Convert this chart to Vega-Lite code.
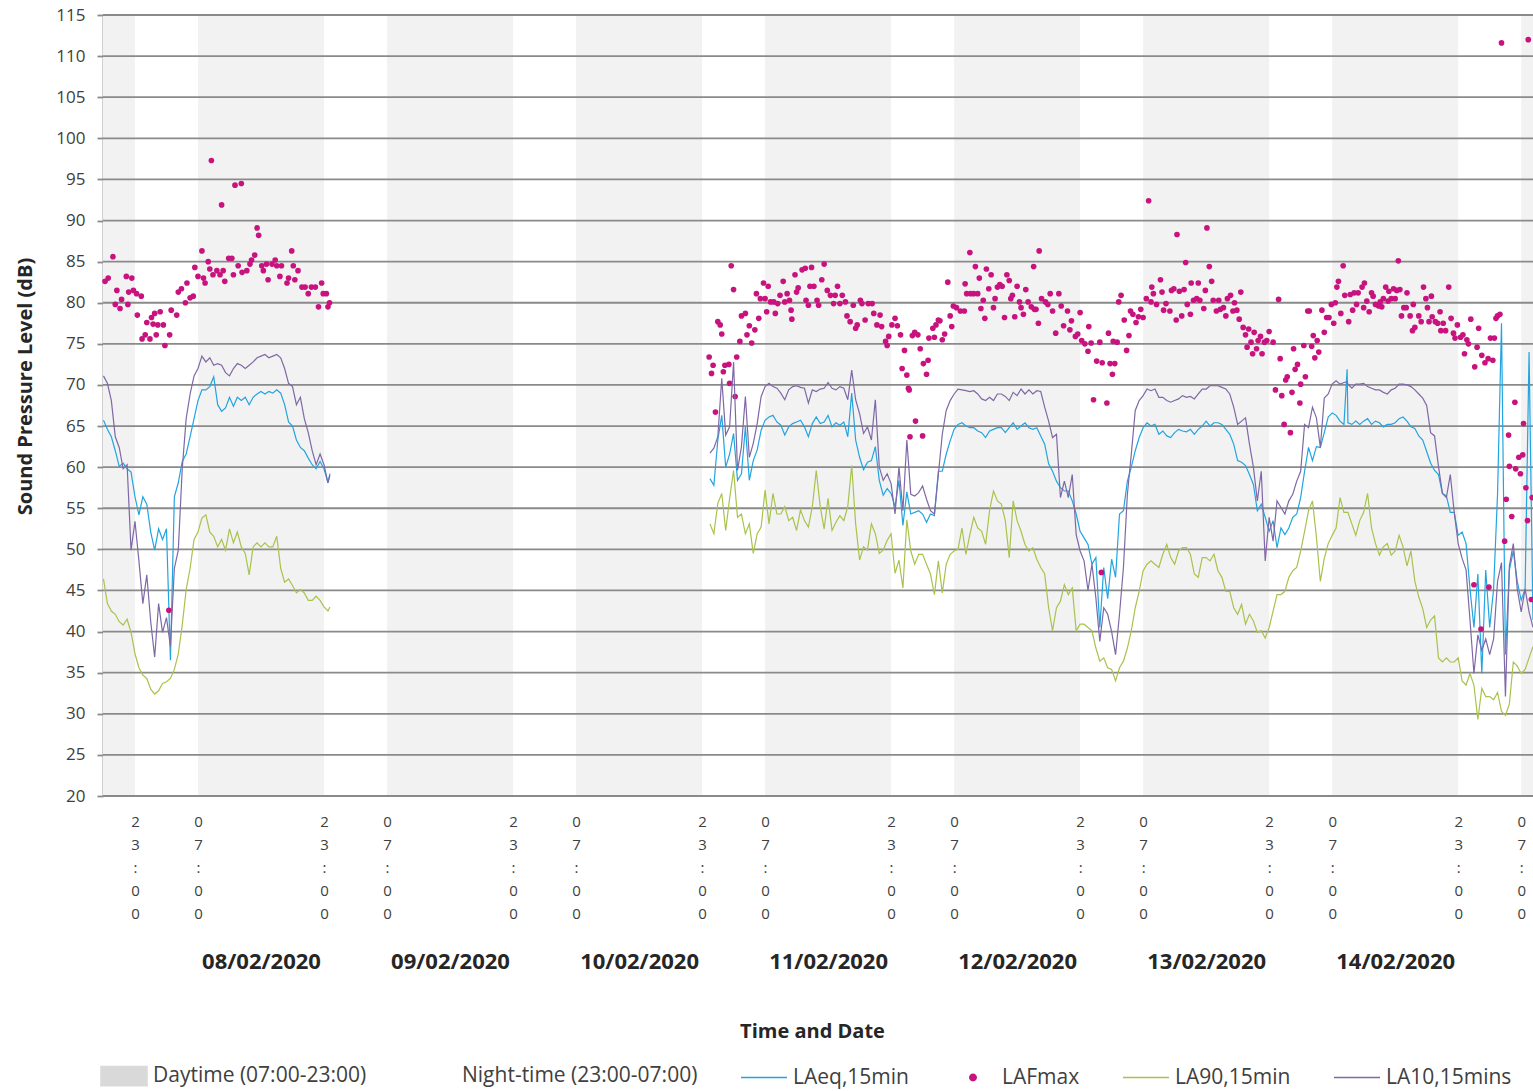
{
"$schema": "https://vega.github.io/schema/vega-lite/v6.json",
"width": 1430, "height": 781,
"autosize": {"type": "none"},
"padding": {"left": 103, "top": 15, "right": 0, "bottom": 295},
"background": "white",
"config": {"view": {"stroke": null}, "font": "Open Sans",
  "axis": {"labelFont": "Open Sans", "titleFont": "Open Sans", "labelColor": "#404040", "titleColor": "#262626"},
  "legend": {"labelFont": "Open Sans"}},
"datasets": {
"B": [{"s":7,"e":23},{"s":31,"e":47},{"s":55,"e":71},{"s":79,"e":95},{"s":103,"e":119},{"s":127,"e":143},{"s":151,"e":167},{"s":175,"e":191},{"s":199,"e":215}],
"G": [{"v":20},{"v":25},{"v":30},{"v":35},{"v":40},{"v":45},{"v":50},{"v":55},{"v":60},{"v":65},{"v":70},{"v":75},{"v":80},{"v":85},{"v":90},{"v":95},{"v":100},{"v":105},{"v":110},{"v":115}],
"D": [{"h":39},{"h":63},{"h":87},{"h":111},{"h":135},{"h":159},{"h":183}],
"L": [
{"h":19,"a":65.7,"g":46.4,"p":71.1,"d":1},{"h":19.5,"a":64.6,"g":43.4,"p":70.2,"d":1},{"h":20,"a":63.7,"g":42.5,"p":68.1,"d":1},{"h":20.5,"a":62,"g":42.1,"p":63.7,"d":1},
{"h":21,"a":60.1,"g":41.2,"p":62.4,"d":1},{"h":21.5,"a":60.5,"g":40.8,"p":59.8,"d":1},{"h":22,"a":59.8,"g":41.5,"p":60.3,"d":1},{"h":22.5,"a":59.4,"g":39.9,"p":49.9,"d":1},
{"h":23,"a":56.4,"g":37.3,"p":53.4,"d":1},{"h":23.5,"a":54.2,"g":35.6,"p":48.6,"d":1},{"h":24,"a":56.4,"g":34.7,"p":43.4,"d":1},{"h":24.5,"a":55.5,"g":34.3,"p":46.9,"d":1},
{"h":25,"a":52.1,"g":33,"p":41.2,"d":1},{"h":25.5,"a":49.9,"g":32.4,"p":36.9,"d":1},{"h":26,"a":52.5,"g":32.8,"p":43.4,"d":1},{"h":26.5,"a":51.2,"g":33.7,"p":39.9,"d":1},
{"h":27,"a":52.5,"g":33.9,"p":41.7,"d":1},{"h":27.5,"a":36.5,"g":34.3,"p":38.2,"d":1},{"h":28,"a":56.4,"g":35.4,"p":47.7,"d":1},{"h":28.5,"a":58.1,"g":37.3,"p":49.9,"d":1},
{"h":29,"a":60.7,"g":40.8,"p":59.8,"d":1},{"h":29.5,"a":61.6,"g":45.1,"p":65.9,"d":1},{"h":30,"a":63.7,"g":47.7,"p":68.9,"d":1},{"h":30.5,"a":65.9,"g":51.2,"p":71.1,"d":1},
{"h":31,"a":68.1,"g":52.1,"p":72,"d":1},{"h":31.5,"a":69.4,"g":53.8,"p":73.5,"d":1},{"h":32,"a":69.4,"g":54.2,"p":72.8,"d":1},{"h":32.5,"a":69.8,"g":52.1,"p":73.3,"d":1},
{"h":33,"a":71,"g":51.6,"p":72.4,"d":1},{"h":33.5,"a":67.6,"g":50.3,"p":72.6,"d":1},{"h":34,"a":66.8,"g":51.2,"p":72.4,"d":1},{"h":34.5,"a":67.2,"g":49.9,"p":71.5,"d":1},
{"h":35,"a":68.5,"g":52.5,"p":71.1,"d":1},{"h":35.5,"a":67.4,"g":50.8,"p":72,"d":1},{"h":36,"a":68.5,"g":52.1,"p":72.6,"d":1},{"h":36.5,"a":68.1,"g":50.3,"p":72.4,"d":1},
{"h":37,"a":68.5,"g":49.5,"p":72,"d":1},{"h":37.5,"a":67.6,"g":46.9,"p":72.4,"d":1},{"h":38,"a":68.5,"g":50.3,"p":72.8,"d":1},{"h":38.5,"a":68.9,"g":50.8,"p":73.3,"d":1},
{"h":39,"a":69.2,"g":50.3,"p":73.5,"d":1},{"h":39.5,"a":68.9,"g":50.8,"p":73.7,"d":1},{"h":40,"a":69.2,"g":50.3,"p":73.3,"d":1},{"h":40.5,"a":69,"g":50.3,"p":73.5,"d":1},
{"h":41,"a":69.4,"g":51.6,"p":73.7,"d":1},{"h":41.5,"a":69,"g":47.7,"p":73.3,"d":1},{"h":42,"a":67.6,"g":46,"p":72,"d":1},{"h":42.5,"a":65.5,"g":46.4,"p":70.2,"d":1},
{"h":43,"a":65,"g":45.6,"p":69.8,"d":1},{"h":43.5,"a":63.3,"g":44.7,"p":67.6,"d":1},{"h":44,"a":62.4,"g":45.1,"p":68.5,"d":1},{"h":44.5,"a":62,"g":44.7,"p":65.9,"d":1},
{"h":45,"a":61.1,"g":43.8,"p":64.2,"d":1},{"h":45.5,"a":60.3,"g":43.8,"p":62,"d":1},{"h":46,"a":59.8,"g":44.3,"p":60.3,"d":1},{"h":46.5,"a":60.7,"g":43.8,"p":61.6,"d":1},
{"h":47,"a":59.8,"g":43,"p":60.3,"d":1},{"h":47.5,"a":58.1,"g":42.5,"p":58.1,"d":1},{"h":47.75,"a":59.2,"g":43,"p":59,"d":1},
{"h":96,"a":58.6,"g":53.1,"p":61.7,"d":2},{"h":96.5,"a":57.8,"g":51.9,"p":62.3,"d":2},{"h":97,"a":63.3,"g":55.6,"p":63.7,"d":2},{"h":97.5,"a":66.3,"g":56.8,"p":70.8,"d":2},
{"h":98,"a":60,"g":52.3,"p":63.9,"d":2},{"h":98.5,"a":61.6,"g":56.2,"p":64.9,"d":2},{"h":99,"a":64.1,"g":59.6,"p":72.8,"d":2},{"h":99.5,"a":58.4,"g":53.9,"p":59.6,"d":2},
{"h":100,"a":59.2,"g":54.3,"p":62.5,"d":2},{"h":100.5,"a":64.9,"g":51.9,"p":68.6,"d":2},{"h":101,"a":58.4,"g":53.1,"p":61.2,"d":2},{"h":101.5,"a":60.8,"g":49.5,"p":62.9,"d":2},
{"h":102,"a":62.1,"g":51.9,"p":65.3,"d":2},{"h":102.5,"a":64.5,"g":52.7,"p":68.6,"d":2},{"h":103,"a":65.7,"g":57.2,"p":69.8,"d":2},{"h":103.5,"a":66.1,"g":53.1,"p":70.2,"d":2},
{"h":104,"a":66.3,"g":56.8,"p":69.8,"d":2},{"h":104.5,"a":65.5,"g":54.3,"p":69.6,"d":2},{"h":105,"a":65.1,"g":54.3,"p":69,"d":2},{"h":105.5,"a":63.9,"g":55.2,"p":68.2,"d":2},
{"h":106,"a":64.9,"g":53.5,"p":69.4,"d":2},{"h":106.5,"a":65.3,"g":53.9,"p":69.8,"d":2},{"h":107,"a":65.5,"g":52.3,"p":69.9,"d":2},{"h":107.5,"a":65.7,"g":54.8,"p":69.7,"d":2},
{"h":108,"a":64.9,"g":53.5,"p":69.6,"d":2},{"h":108.5,"a":63.7,"g":52.7,"p":67.8,"d":2},{"h":109,"a":65.3,"g":55.2,"p":69.4,"d":2},{"h":109.5,"a":66.1,"g":59.6,"p":69.2,"d":2},
{"h":110,"a":65.3,"g":55.2,"p":69.5,"d":2},{"h":110.5,"a":65.5,"g":52.5,"p":69.6,"d":2},{"h":111,"a":66.3,"g":56.2,"p":70.3,"d":2},{"h":111.5,"a":64.9,"g":52.3,"p":69.6,"d":2},
{"h":112,"a":65.4,"g":53.3,"p":69.4,"d":2},{"h":112.5,"a":65.1,"g":54.1,"p":69.8,"d":2},{"h":113,"a":65.5,"g":53.5,"p":69.6,"d":2},{"h":113.5,"a":63.7,"g":55.2,"p":68.2,"d":2},
{"h":114,"a":69,"g":60.2,"p":71.8,"d":2},{"h":114.5,"a":63.3,"g":53.1,"p":68.2,"d":2},{"h":115,"a":61.2,"g":48.7,"p":66.5,"d":2},{"h":115.5,"a":59.7,"g":50.3,"p":64.1,"d":2},
{"h":116,"a":60.6,"g":49.9,"p":64.9,"d":2},{"h":116.5,"a":60.8,"g":53.1,"p":63.3,"d":2},{"h":117,"a":62.5,"g":51.9,"p":68.2,"d":2},{"h":117.5,"a":58.4,"g":49.5,"p":60,"d":2},
{"h":118,"a":56.6,"g":49.9,"p":58.4,"d":2},{"h":118.5,"a":57.4,"g":51.1,"p":59.2,"d":2},{"h":119,"a":56.8,"g":51.9,"p":58,"d":2},{"h":119.5,"a":55.2,"g":47.1,"p":54.3,"d":2},
{"h":120,"a":58.4,"g":48.7,"p":60,"d":2},{"h":120.5,"a":52.9,"g":45.3,"p":54.7,"d":2},{"h":121,"a":57,"g":53.6,"p":63.3,"d":2},{"h":121.5,"a":54.3,"g":49.8,"p":56.7,"d":2},
{"h":122,"a":54.5,"g":48.2,"p":56.5,"d":2},{"h":122.5,"a":54.7,"g":49.4,"p":56.9,"d":2},{"h":123,"a":54.3,"g":49.4,"p":57.7,"d":2},{"h":123.5,"a":53.3,"g":48.2,"p":56.1,"d":2},
{"h":124,"a":54.3,"g":47,"p":54.7,"d":2},{"h":124.5,"a":54.1,"g":44.5,"p":54.3,"d":2},{"h":125,"a":59.5,"g":48.6,"p":59.1,"d":2},{"h":125.5,"a":59.5,"g":44.7,"p":64,"d":2},
{"h":126,"a":61.6,"g":48.2,"p":66.9,"d":2},{"h":126.5,"a":63.2,"g":49.4,"p":68.1,"d":2},{"h":127,"a":64.6,"g":49.8,"p":68.9,"d":2},{"h":127.5,"a":65.2,"g":50,"p":69.5,"d":2},
{"h":128,"a":65.4,"g":52.6,"p":69.4,"d":2},{"h":128.5,"a":65,"g":49.4,"p":69.3,"d":2},{"h":129,"a":64.8,"g":51.8,"p":69.2,"d":2},{"h":129.5,"a":64.8,"g":53.9,"p":69.3,"d":2},
{"h":130,"a":64.4,"g":52.6,"p":68.9,"d":2},{"h":130.5,"a":64.2,"g":52.2,"p":68.3,"d":2},{"h":131,"a":63.6,"g":50.6,"p":68.1,"d":2},{"h":131.5,"a":64.4,"g":54.7,"p":68.5,"d":2},
{"h":132,"a":64.6,"g":57.1,"p":68.1,"d":2},{"h":132.5,"a":64.8,"g":55.9,"p":68.9,"d":2},{"h":133,"a":64.8,"g":55.5,"p":68.9,"d":2},{"h":133.5,"a":64.2,"g":53.5,"p":68.6,"d":2},
{"h":134,"a":64.8,"g":49,"p":68.1,"d":2},{"h":134.5,"a":65.4,"g":55.9,"p":69.1,"d":2},{"h":135,"a":64.6,"g":53.5,"p":68.7,"d":2},{"h":135.5,"a":65,"g":52.2,"p":69.5,"d":2},
{"h":136,"a":65.4,"g":50.6,"p":68.9,"d":2},{"h":136.5,"a":64.8,"g":49.8,"p":69.4,"d":2},{"h":137,"a":64.6,"g":50.2,"p":68.9,"d":2},{"h":137.5,"a":64.8,"g":48.8,"p":69.3,"d":2},
{"h":138,"a":63.8,"g":47.8,"p":69.2,"d":2},{"h":138.5,"a":62.8,"g":47,"p":67.3,"d":2},{"h":139,"a":60.4,"g":42.9,"p":65.6,"d":2},{"h":139.5,"a":59.5,"g":40.1,"p":63.6,"d":2},
{"h":140,"a":58.3,"g":42.9,"p":64,"d":2},{"h":140.5,"a":57.5,"g":43.7,"p":56.3,"d":2},{"h":141,"a":57.1,"g":45.7,"p":58.3,"d":2},{"h":141.5,"a":57.1,"g":44.5,"p":56.3,"d":2},
{"h":142,"a":55.9,"g":45.3,"p":59.1,"d":2},{"h":142.5,"a":54.3,"g":40.1,"p":51.8,"d":2},{"h":143,"a":52.2,"g":40.9,"p":49.8,"d":2},{"h":143.5,"a":51.4,"g":40.9,"p":48.6,"d":2},
{"h":144,"a":50.6,"g":40.5,"p":45,"d":2},{"h":144.5,"a":48.2,"g":40.1,"p":48.2,"d":2},{"h":145,"a":49,"g":38,"p":44.1,"d":2},{"h":145.5,"a":40.5,"g":36.4,"p":38.8,"d":2},
{"h":146,"a":47.8,"g":36.8,"p":42.9,"d":2},{"h":146.5,"a":44,"g":35.6,"p":42.1,"d":2},{"h":147,"a":48.8,"g":35.4,"p":40,"d":2},{"h":147.5,"a":46.6,"g":34,"p":37.2,"d":2},
{"h":148,"a":54.3,"g":35.6,"p":42.1,"d":2},{"h":148.5,"a":54.7,"g":36.4,"p":47.8,"d":2},{"h":149,"a":58.3,"g":38,"p":56.7,"d":2},{"h":149.5,"a":60,"g":40.1,"p":61.6,"d":2},
{"h":150,"a":62,"g":42.9,"p":66.9,"d":2},{"h":150.5,"a":63.6,"g":44.9,"p":68.1,"d":2},{"h":151,"a":64.8,"g":47.4,"p":68.7,"d":2},{"h":151.5,"a":65.4,"g":48.2,"p":69.5,"d":2},
{"h":152,"a":65,"g":48.6,"p":69.3,"d":2},{"h":152.5,"a":65.2,"g":48.2,"p":69.5,"d":2},{"h":153,"a":64,"g":47.8,"p":68.5,"d":2},{"h":153.5,"a":64.4,"g":49.4,"p":68.5,"d":2},
{"h":154,"a":63.8,"g":50.6,"p":68.1,"d":2},{"h":154.5,"a":63.6,"g":49,"p":67.9,"d":2},{"h":155,"a":64.2,"g":48.2,"p":68.1,"d":2},{"h":155.5,"a":64.6,"g":49.8,"p":68.3,"d":2},
{"h":156,"a":64.4,"g":50.2,"p":68.7,"d":2},{"h":156.5,"a":64.3,"g":50.2,"p":68.5,"d":2},{"h":157,"a":64.6,"g":49.4,"p":68.6,"d":2},{"h":157.5,"a":64,"g":47,"p":68.3,"d":2},
{"h":158,"a":64.6,"g":46.6,"p":68.9,"d":2},{"h":158.5,"a":65,"g":49,"p":69.5,"d":2},{"h":159,"a":65.6,"g":49,"p":69.5,"d":2},{"h":159.5,"a":65,"g":48.6,"p":69.9,"d":2},
{"h":160,"a":65.4,"g":49.4,"p":69.9,"d":2},{"h":160.5,"a":65.4,"g":47.4,"p":69.9,"d":2},{"h":161,"a":65.2,"g":46.6,"p":69.7,"d":2},{"h":161.5,"a":64.6,"g":44.9,"p":69.5,"d":2},
{"h":162,"a":64,"g":44.9,"p":68.9,"d":2},{"h":162.5,"a":62.8,"g":42.9,"p":67.3,"d":2},{"h":163,"a":60.8,"g":42.1,"p":65.2,"d":2},{"h":163.5,"a":60.6,"g":43.3,"p":65.6,"d":2},
{"h":164,"a":60.2,"g":40.9,"p":66,"d":2},{"h":164.5,"a":59.1,"g":42.1,"p":62.8,"d":2},{"h":165,"a":57.9,"g":41.3,"p":60,"d":2},{"h":165.5,"a":54.7,"g":39.9,"p":55.9,"d":2},
{"h":166,"a":55.5,"g":40.1,"p":59.5,"d":2},{"h":166.5,"a":53.9,"g":39.2,"p":48.6,"d":2},{"h":167,"a":52.2,"g":40.5,"p":53.9,"d":2},{"h":167.5,"a":53.5,"g":42.5,"p":51,"d":2},
{"h":168,"a":50.2,"g":44.5,"p":55.9,"d":2},{"h":168.5,"a":52.6,"g":44.5,"p":55.1,"d":2},{"h":169,"a":51.8,"g":44.9,"p":54.3,"d":2},{"h":169.5,"a":52.6,"g":46.6,"p":55.9,"d":2},
{"h":170,"a":53.9,"g":47.4,"p":56.7,"d":2},{"h":170.5,"a":54.3,"g":47.8,"p":58.3,"d":2},{"h":171,"a":56.3,"g":49.8,"p":59.5,"d":2},{"h":171.5,"a":59.5,"g":52.2,"p":65.2,"d":2},
{"h":172,"a":62.4,"g":54.7,"p":64.8,"d":2},{"h":172.5,"a":60.8,"g":55.9,"p":67.3,"d":2},{"h":173,"a":62.5,"g":51.5,"p":66,"d":2},{"h":173.5,"a":62.4,"g":46.1,"p":62.4,"d":2},
{"h":174,"a":64.2,"g":48.9,"p":68.4,"d":2},{"h":174.5,"a":66.1,"g":50.7,"p":68.9,"d":2},{"h":175,"a":66.6,"g":51.7,"p":70.1,"d":2},{"h":175.5,"a":66.3,"g":52.6,"p":70.5,"d":2},
{"h":176,"a":65.6,"g":56.3,"p":70.1,"d":2},{"h":176.5,"a":65.2,"g":54.5,"p":70.3,"d":2},{"h":176.9,"a":71.9,"g":54.5,"p":70.4,"d":2},{"h":177,"a":65.4,"g":54.5,"p":70.1,"d":2},{"h":177.5,"a":65.2,"g":53.1,"p":69.6,"d":2},
{"h":178,"a":65.6,"g":51.7,"p":70.1,"d":2},{"h":178.5,"a":65.2,"g":53.5,"p":70.1,"d":2},{"h":179,"a":65.6,"g":54.5,"p":70.2,"d":2},{"h":179.5,"a":65.9,"g":56.8,"p":69.8,"d":2},
{"h":180,"a":65.2,"g":52.6,"p":69.6,"d":2},{"h":180.5,"a":65.6,"g":50.7,"p":69.4,"d":2},{"h":181,"a":65.4,"g":49.3,"p":69.4,"d":2},{"h":181.5,"a":64.9,"g":50.3,"p":69.1,"d":2},
{"h":182,"a":65.2,"g":50.7,"p":68.9,"d":2},{"h":182.5,"a":65.2,"g":49.3,"p":69.4,"d":2},{"h":183,"a":65.4,"g":49.8,"p":69.6,"d":2},{"h":183.5,"a":65.9,"g":51.7,"p":70.1,"d":2},
{"h":184,"a":66.1,"g":50.3,"p":70.1,"d":2},{"h":184.5,"a":65.6,"g":48,"p":70,"d":2},{"h":185,"a":64.9,"g":49.8,"p":69.8,"d":2},{"h":185.5,"a":64.7,"g":46.1,"p":69.4,"d":2},
{"h":186,"a":63.8,"g":44.2,"p":68.9,"d":2},{"h":186.5,"a":63.3,"g":42.8,"p":68.4,"d":2},{"h":187,"a":61.9,"g":40.5,"p":67.5,"d":2},{"h":187.5,"a":60.5,"g":41.4,"p":64.2,"d":2},
{"h":188,"a":59.6,"g":41.9,"p":63.8,"d":2},{"h":188.5,"a":59.1,"g":36.8,"p":60.1,"d":2},{"h":189,"a":56.8,"g":36.3,"p":56.8,"d":2},{"h":189.5,"a":56.5,"g":36.8,"p":56.3,"d":2},
{"h":190,"a":54.5,"g":36.3,"p":59.1,"d":2},{"h":190.5,"a":54.5,"g":36.3,"p":54.5,"d":2},{"h":191,"a":51.7,"g":36.8,"p":50.7,"d":2},{"h":191.5,"a":52.1,"g":34,"p":48.9,"d":2},
{"h":192,"a":50.7,"g":33.5,"p":47.5,"d":2},{"h":192.5,"a":45.2,"g":34.9,"p":41.4,"d":2},{"h":193,"a":40.5,"g":33.5,"p":34.9,"d":2},{"h":193.5,"a":47,"g":29.3,"p":39.6,"d":2},
{"h":194,"a":34.9,"g":33.1,"p":37.7,"d":2},{"h":194.5,"a":47.5,"g":32.1,"p":39.1,"d":2},{"h":195,"a":40.5,"g":32.1,"p":37.2,"d":2},{"h":195.5,"a":45.2,"g":31.7,"p":39.1,"d":2},
{"h":196,"a":56.8,"g":32.6,"p":46.1,"d":2},{"h":196.5,"a":77.5,"g":30.3,"p":48.4,"d":2},{"h":197,"a":37.2,"g":29.8,"p":32.1,"d":2},{"h":197.5,"a":47.5,"g":31.2,"p":48,"d":2},
{"h":198,"a":49.8,"g":36.3,"p":50.7,"d":2},{"h":198.5,"a":46.1,"g":35.8,"p":45.2,"d":2},{"h":199,"a":43.8,"g":34.9,"p":42.4,"d":2},{"h":199.5,"a":45.2,"g":35.4,"p":45.2,"d":2},
{"h":200,"a":74,"g":36.8,"p":42.4,"d":2},{"h":200.5,"a":41.4,"g":38.2,"p":40.5,"d":2}
],
"M": [
{"h":19.2,"m":82.6},{"h":19.6,"m":83},{"h":20.2,"m":85.6},{"h":20.5,"m":79.8},{"h":20.7,"m":81.5},{"h":21.1,"m":79.3},{"h":21.3,"m":80.4},{"h":21.9,"m":83.2},{"h":22.1,"m":79.8},{"h":22.2,"m":81.3},
{"h":22.6,"m":83},{"h":22.8,"m":81.5},{"h":23.2,"m":81.1},{"h":23.3,"m":78.5},{"h":23.8,"m":80.8},{"h":23.9,"m":75.6},{"h":24.3,"m":76.1},{"h":24.5,"m":77.6},{"h":24.9,"m":75.6},{"h":25.1,"m":78.2},
{"h":25.3,"m":77.4},{"h":25.5,"m":78.7},{"h":25.7,"m":76.1},{"h":25.9,"m":77.3},{"h":26.2,"m":78.9},{"h":26.6,"m":77.3},{"h":26.8,"m":74.8},{"h":27.3,"m":42.6},{"h":27.4,"m":76.1},{"h":27.6,"m":79.1},
{"h":28.3,"m":78.5},{"h":28.5,"m":81.3},{"h":28.9,"m":81.7},{"h":29.4,"m":80},{"h":29.6,"m":82.4},{"h":30,"m":80.6},{"h":30.4,"m":80.8},{"h":30.6,"m":84.3},{"h":31,"m":83.2},{"h":31.5,"m":86.3},
{"h":31.7,"m":83},{"h":31.9,"m":82.4},{"h":32.3,"m":85},{"h":32.5,"m":84.1},{"h":32.7,"m":97.3},{"h":32.9,"m":83.4},{"h":33.4,"m":83.9},{"h":33.8,"m":83.4},{"h":34,"m":91.9},{"h":34.2,"m":83.9},
{"h":34.4,"m":82.6},{"h":34.9,"m":85.4},{"h":35.3,"m":85.4},{"h":35.5,"m":83.4},{"h":35.7,"m":94.3},{"h":36.1,"m":84.5},{"h":36.5,"m":94.5},{"h":36.6,"m":83.7},{"h":37.2,"m":83.9},{"h":37.6,"m":84.7},
{"h":37.8,"m":85.2},{"h":38.2,"m":85.8},{"h":38.5,"m":89.1},{"h":38.7,"m":88.2},{"h":39.1,"m":84.5},{"h":39.3,"m":83.9},{"h":39.7,"m":84.7},{"h":39.9,"m":82.8},{"h":40.4,"m":84.7},{"h":40.8,"m":85.2},
{"h":41,"m":84.5},{"h":41.4,"m":83.2},{"h":41.6,"m":84.5},{"h":42.3,"m":82.4},{"h":42.5,"m":83},{"h":42.9,"m":86.3},{"h":43.1,"m":84.5},{"h":43.3,"m":82.8},{"h":43.7,"m":83.9},{"h":44.2,"m":81.9},
{"h":44.6,"m":81.9},{"h":45,"m":81.1},{"h":45.4,"m":81.9},{"h":45.9,"m":81.9},{"h":46.3,"m":79.5},{"h":46.7,"m":82.4},{"h":46.9,"m":81.1},{"h":47.3,"m":81.1},{"h":47.5,"m":79.5},{"h":47.7,"m":80},
{"h":95.9,"m":73.4},{"h":96.2,"m":71.4},{"h":96.4,"m":72.4},{"h":96.7,"m":66.7},{"h":97,"m":77.7},{"h":97.3,"m":77.3},{"h":97.5,"m":76.2},{"h":97.7,"m":71.6},{"h":97.9,"m":72.4},{"h":98.4,"m":72.5},
{"h":98.5,"m":70.2},{"h":98.7,"m":84.5},{"h":99,"m":81.6},{"h":99.2,"m":68.6},{"h":99.4,"m":73.4},{"h":99.8,"m":75.3},{"h":100,"m":78.4},{"h":100.5,"m":78.7},{"h":100.7,"m":76.1},{"h":101,"m":77.2},
{"h":101.3,"m":75.1},{"h":101.7,"m":76.7},{"h":101.9,"m":81.1},{"h":102.2,"m":78.1},{"h":102.4,"m":80.5},{"h":102.8,"m":82.4},{"h":103,"m":80.5},{"h":103.2,"m":78.9},{"h":103.4,"m":82},{"h":103.7,"m":80.1},
{"h":104.1,"m":80.1},{"h":104.3,"m":78.7},{"h":104.6,"m":79.9},{"h":104.9,"m":80.9},{"h":105.3,"m":82.6},{"h":105.5,"m":80.1},{"h":105.8,"m":81.1},{"h":106.1,"m":80.3},{"h":106.3,"m":79.1},{"h":106.4,"m":78},
{"h":106.8,"m":83.4},{"h":107,"m":81.3},{"h":107.2,"m":81.8},{"h":107.7,"m":84},{"h":108.1,"m":84.2},{"h":108.2,"m":80.3},{"h":108.5,"m":79.7},{"h":108.7,"m":82},{"h":108.9,"m":84.3},{"h":109.2,"m":82},
{"h":109.6,"m":80.3},{"h":109.8,"m":79.7},{"h":110.2,"m":82.8},{"h":110.5,"m":84.7},{"h":110.9,"m":81.5},{"h":111.3,"m":80.9},{"h":111.7,"m":79.9},{"h":111.9,"m":80.9},{"h":112.2,"m":82},{"h":112.5,"m":79.9},
{"h":112.8,"m":80.9},{"h":113.2,"m":80.1},{"h":113.4,"m":78.4},{"h":113.8,"m":77.7},{"h":114.2,"m":79.7},{"h":114.5,"m":76.9},{"h":114.7,"m":77.3},{"h":115.1,"m":80.3},{"h":115.3,"m":79.9},{"h":115.7,"m":77.9},
{"h":116.1,"m":79.9},{"h":116.6,"m":79.9},{"h":116.8,"m":78.7},{"h":117.2,"m":77.3},{"h":117.6,"m":78.5},{"h":117.8,"m":77.1},{"h":118.3,"m":75.3},{"h":118.5,"m":74.8},{"h":118.7,"m":75.9},{"h":119.1,"m":77.3},
{"h":119.5,"m":78.1},{"h":119.8,"m":77.2},{"h":120.2,"m":76.1},{"h":120.4,"m":72},{"h":120.7,"m":74.2},{"h":121,"m":71.2},{"h":121.2,"m":69.6},
{"h":121.3,"m":69.4},{"h":121.4,"m":63.7},{"h":121.7,"m":76},{"h":122,"m":76.4},{"h":122.1,"m":65.6},{"h":122.4,"m":76.1},{"h":122.7,"m":74.4},{"h":123,"m":63.8},{"h":123.1,"m":72.6},{"h":123.5,"m":71.3},
{"h":123.7,"m":73},{"h":123.8,"m":75.7},{"h":124.3,"m":76.9},{"h":124.5,"m":75.8},{"h":124.7,"m":77.3},{"h":125,"m":77.9},{"h":125.2,"m":77.8},{"h":125.5,"m":75.5},{"h":125.8,"m":76.2},{"h":126.2,"m":82.5},
{"h":126.5,"m":78.4},{"h":126.7,"m":77.1},{"h":126.9,"m":79.6},{"h":127.3,"m":79.4},{"h":127.8,"m":79},{"h":128.3,"m":79},{"h":128.4,"m":82.3},{"h":128.6,"m":81.1},{"h":129,"m":86.1},{"h":129.1,"m":81.1},
{"h":129.5,"m":81.1},{"h":129.7,"m":84.4},{"h":130,"m":81.1},{"h":130.2,"m":83},{"h":130.4,"m":79.3},{"h":130.7,"m":80.3},{"h":130.9,"m":78.1},{"h":131.1,"m":84.1},{"h":131.4,"m":81.7},{"h":131.7,"m":83.4},
{"h":132,"m":79.4},{"h":132.2,"m":80.5},{"h":132.5,"m":81.9},{"h":132.8,"m":82.2},{"h":133.1,"m":82},{"h":133.4,"m":78.2},{"h":133.7,"m":83.4},{"h":134,"m":82.7},{"h":134.2,"m":80.5},{"h":134.4,"m":80.9},
{"h":134.7,"m":78.3},{"h":135,"m":82},{"h":135.3,"m":80.1},{"h":135.5,"m":79.4},{"h":135.8,"m":78.6},{"h":136.1,"m":81.6},{"h":136.4,"m":80.1},{"h":136.8,"m":79.5},{"h":137.1,"m":84.4},{"h":137.2,"m":79.2},
{"h":137.4,"m":79.2},{"h":137.7,"m":77.5},{"h":137.8,"m":86.3},{"h":138.1,"m":80.5},{"h":138.6,"m":80.1},{"h":138.9,"m":79.8},{"h":139.2,"m":81.1},{"h":139.5,"m":79},{"h":139.9,"m":76.3},{"h":140.3,"m":81.1},
{"h":140.6,"m":79.6},{"h":140.9,"m":77.2},{"h":141.4,"m":79},{"h":141.7,"m":76.7},{"h":141.9,"m":77.8},{"h":142.4,"m":75.9},{"h":142.7,"m":76.2},{"h":143,"m":78.8},{"h":143.2,"m":75.4},{"h":143.6,"m":75},
{"h":144,"m":74.1},{"h":144.1,"m":77.1},{"h":144.4,"m":75.1},{"h":144.7,"m":68.2},{"h":145.1,"m":72.9},{"h":145.5,"m":75.2},{"h":145.7,"m":47.2},{"h":145.8,"m":72.7},{"h":146.4,"m":67.8},{"h":146.6,"m":76.3},
{"h":146.8,"m":72.6},{"h":147.1,"m":71.3},{"h":147.2,"m":75.3},{"h":147.4,"m":72.6},{"h":147.7,"m":75.2},{"h":147.9,"m":80.1},{"h":148.2,"m":80.9},{"h":148.6,"m":77.9},{"h":148.9,"m":74.2},{"h":149.2,"m":76},
{"h":149.4,"m":79},{"h":149.7,"m":78.6},{"h":150.1,"m":77.6},{"h":150.4,"m":78.3},{"h":150.7,"m":79.2},{"h":151,"m":78.2},{"h":151.4,"m":80.5},{"h":151.7,"m":92.4},{"h":152,"m":80.1},{"h":152.1,"m":81.9},
{"h":152.3,"m":81.1},{"h":152.7,"m":79.8},{"h":153.2,"m":82.8},{"h":153.4,"m":81.3},{"h":153.6,"m":79.1},{"h":153.9,"m":79.9},{"h":154.4,"m":79},{"h":154.6,"m":81.5},{"h":154.9,"m":81.7},{"h":155.2,"m":77.9},
{"h":155.3,"m":88.3},{"h":155.6,"m":81.4},{"h":155.9,"m":78.4},{"h":156.2,"m":81.6},{"h":156.4,"m":84.9},{"h":156.6,"m":79.8},{"h":157,"m":78.6},{"h":157.1,"m":82.4},{"h":157.4,"m":80.3},{"h":157.8,"m":80.5},
{"h":158,"m":82.4},{"h":158.2,"m":80.3},{"h":158.7,"m":79.3},{"h":158.9,"m":81.5},{"h":159.1,"m":89.1},{"h":159.4,"m":84.4},{"h":159.7,"m":82.6},{"h":159.9,"m":80.3},{"h":160.3,"m":79},{"h":160.6,"m":80.3},
{"h":160.8,"m":79.2},{"h":161.2,"m":79.4},{"h":161.5,"m":78.4},{"h":161.7,"m":80.5},{"h":162.1,"m":80.9},{"h":162.4,"m":79},{"h":162.6,"m":80},{"h":162.9,"m":79.1},{"h":163.2,"m":78},{"h":163.4,"m":81.3},
{"h":163.7,"m":77},{"h":164,"m":76.1},{"h":164.2,"m":74.6},{"h":164.4,"m":76.8},{"h":164.7,"m":75.2},{"h":164.9,"m":73.8},{"h":165.1,"m":76.4},{"h":165.4,"m":74.4},{"h":165.6,"m":75.4},{"h":165.9,"m":75.9},
{"h":166.1,"m":73.8},{"h":166.4,"m":75.2},{"h":166.7,"m":75.4},{"h":167,"m":76.5},{"h":167.5,"m":75.2},{"h":167.8,"m":69.4},{"h":168.2,"m":80.4},{"h":168.4,"m":73.2},{"h":168.6,"m":68.7},{"h":168.9,"m":65.2},
{"h":169.1,"m":70.6},{"h":169.3,"m":71},{"h":169.7,"m":64.2},{"h":169.9,"m":69.1},{"h":170.1,"m":74.4},{"h":170.3,"m":71.9},{"h":170.6,"m":72.5},{"h":170.9,"m":67.8},{"h":171,"m":70.1},{"h":171.4,"m":74.8},
{"h":171.6,"m":71},{"h":171.9,"m":79},{"h":172.1,"m":79},{"h":172.4,"m":74.7},{"h":172.6,"m":76},{"h":172.8,"m":73.3},{"h":173.1,"m":75.4},{"h":173.3,"m":74},{"h":173.7,"m":79.1},{"h":174,"m":76.4},
{"h":174.3,"m":78.2},{"h":174.6,"m":78.2},{"h":174.9,"m":79.8},{"h":175.2,"m":77.5},{"h":175.4,"m":80},{"h":175.6,"m":81.9},{"h":175.8,"m":82.6},{"h":176.1,"m":78.7},{"h":176.4,"m":84.5},{"h":176.6,"m":80.9},
{"h":177.1,"m":77.7},{"h":177.3,"m":81},{"h":177.6,"m":79.1},{"h":177.8,"m":81.2},{"h":178.1,"m":79.8},{"h":178.3,"m":81.2},{"h":178.8,"m":81.9},{"h":179,"m":79.4},{"h":179.1,"m":82.4},{"h":179.4,"m":80.2},
{"h":179.7,"m":78.9},{"h":180,"m":81.2},{"h":180.2,"m":80.8},{"h":180.5,"m":79.8},{"h":180.9,"m":79.6},{"h":181.1,"m":80.1},{"h":181.3,"m":79.5},{"h":181.5,"m":80.5},{"h":181.8,"m":81.9},{"h":182.1,"m":80.2},
{"h":182.2,"m":81.4},{"h":182.5,"m":80.5},{"h":182.8,"m":81.7},{"h":183,"m":80.5},{"h":183.2,"m":81.5},{"h":183.4,"m":85.1},{"h":183.6,"m":81.6},{"h":183.8,"m":78.4},{"h":184.1,"m":79.4},{"h":184.4,"m":79.4},
{"h":184.5,"m":81.2},{"h":184.9,"m":78.4},{"h":185.2,"m":76.6},{"h":185.3,"m":79.8},{"h":185.5,"m":77},{"h":186,"m":78.4},{"h":186.3,"m":77.7},{"h":186.6,"m":81.9},{"h":186.9,"m":80.5},{"h":187.1,"m":79.4},
{"h":187.3,"m":77.7},{"h":187.6,"m":80.8},{"h":187.7,"m":78.3},{"h":188.1,"m":77.7},{"h":188.4,"m":77.5},{"h":188.7,"m":78.9},{"h":188.8,"m":76.6},{"h":189.1,"m":77.5},{"h":189.4,"m":76.6},{"h":189.8,"m":81.9},
{"h":190.1,"m":78.1},{"h":190.4,"m":76.3},{"h":190.6,"m":75.7},{"h":190.9,"m":77.3},{"h":191.3,"m":75.8},{"h":191.6,"m":76.1},{"h":191.8,"m":73.8},{"h":192.1,"m":75.5},{"h":192.3,"m":75},{"h":192.6,"m":78},
{"h":193,"m":45.7},{"h":193.1,"m":72.2},{"h":193.4,"m":74.6},{"h":193.6,"m":76.9},{"h":193.9,"m":40.3},{"h":194,"m":73.6},{"h":194.4,"m":72.7},{"h":194.8,"m":73.2},{"h":194.9,"m":45.4},{"h":195.1,"m":75.7},
{"h":195.4,"m":73},{"h":195.6,"m":75.7},{"h":195.8,"m":78.1},{"h":196,"m":78.4},{"h":196.3,"m":78.6},{"h":196.5,"m":111.6},{"h":196.9,"m":51},{"h":197.1,"m":56.1},{"h":197.4,"m":63.9},{"h":197.5,"m":60.1},
{"h":197.8,"m":54},{"h":198.2,"m":67.9},{"h":198.3,"m":59.8},{"h":198.7,"m":61.2},{"h":198.9,"m":59.2},{"h":199.2,"m":61.5},{"h":199.3,"m":65.3},{"h":199.6,"m":57.5},{"h":199.8,"m":53.5},{"h":199.9,"m":112},
{"h":200.3,"m":43.9},{"h":200.4,"m":56.3}
]
},
"resolve": {"axis": {"x": "independent", "y": "independent"}},
"layer": [
{"data": {"name": "B"}, "mark": {"type": "rect", "fill": "#f2f2f2", "clip": true},
 "encoding": {
  "x": {"field": "s", "type": "quantitative", "scale": {"domain": [18.94, 200.5], "nice": false, "zero": false},
   "axis": {"orient": "bottom", "values": [23,31,47,55,71,79,95,103,119,127,143,151,167,175,191,199],
    "labelExpr": "split(datum.value % 24 == 23 ? '23:00' : '07:00', '')",
    "labelFontSize": 15, "labelLineHeight": 23.2, "labelBaseline": "top", "labelPadding": 18,
    "ticks": false, "domain": false, "grid": false, "labelFlush": false, "labelOverlap": false, "labelBound": false, "title": null}},
  "x2": {"field": "e"}}},
{"data": {"name": "G"}, "mark": {"type": "rule", "stroke": "#8a8a8a", "strokeWidth": 1.8},
 "encoding": {
  "y": {"field": "v", "type": "quantitative", "scale": {"domain": [20, 115], "nice": false, "zero": false},
   "axis": {"values": [20,25,30,35,40,45,50,55,60,65,70,75,80,85,90,95,100,105,110,115], "grid": false,
    "domainColor": "#8a8a8a", "domainWidth": 1.8, "tickColor": "#8a8a8a", "tickSize": 6, "tickWidth": 1.8,
    "labelFontSize": 17, "labelPadding": 12,
    "title": "Sound Pressure Level (dB)", "titleFontSize": 20, "titleFontWeight": "bold",
    "titleX": -78, "titleY": 371, "titleAngle": 270, "titleBaseline": "middle", "titleAlign": "center"}}}},
{"data": {"name": "L"}, "mark": {"type": "line", "strokeWidth": 1.2},
 "encoding": {
  "x": {"field": "h", "type": "quantitative", "axis": null},
  "y": {"field": "a", "type": "quantitative", "axis": null},
  "detail": {"field": "d"},
  "color": {"datum": "LAeq,15min",
   "scale": {"domain": ["Daytime (07:00-23:00)", "Night-time (23:00-07:00)", "LAeq,15min", "LAFmax", "LA90,15min", "LA10,15mins"],
             "range": ["#d9d9d9", "#ffffff", "#22a4e0", "#c8127e", "#a8c34c", "#7f68a6"]},
   "legend": {"orient": "none", "legendX": -3, "legendY": 1037, "direction": "horizontal", "columns": 6, "title": null,
    "symbolSize": 2116, "labelFontSize": 21, "labelColor": "#404040", "labelOffset": 5, "labelLimit": 0, "columnPadding": 40, "padding": 0,
    "encode": {"symbols": {"update": {
      "shape": {"signal": "datum.value == 'LAFmax' ? 'M-0.14,0A0.14,0.14,0,1,0,0.14,0A0.14,0.14,0,1,0,-0.14,0Z' : (indexof(datum.value, 'time') >= 0 ? 'M-1,-0.42H1V0.42H-1Z' : 'stroke')"},
      "size": {"value": 2116},
      "fill": {"signal": "datum.value == 'LAFmax' ? '#c8127e' : (datum.value == 'Daytime (07:00-23:00)' ? '#d9d9d9' : (datum.value == 'Night-time (23:00-07:00)' ? '#ffffff' : 'transparent'))"},
      "stroke": {"signal": "datum.value == 'Night-time (23:00-07:00)' ? '#dddddd' : ((datum.value == 'LAFmax' || datum.value == 'Daytime (07:00-23:00)') ? 'transparent' : scale('color', datum.value))"},
      "strokeWidth": {"value": 1.5},
      "opacity": {"value": 1}}}}}}}},
{"data": {"name": "M"}, "mark": {"type": "point", "filled": true, "size": 32, "opacity": 1},
 "encoding": {
  "x": {"field": "h", "type": "quantitative", "axis": null},
  "y": {"field": "m", "type": "quantitative", "axis": null},
  "color": {"datum": "LAFmax"}}},
{"data": {"name": "L"}, "mark": {"type": "line", "strokeWidth": 1.2},
 "encoding": {
  "x": {"field": "h", "type": "quantitative", "axis": null},
  "y": {"field": "g", "type": "quantitative", "axis": null},
  "detail": {"field": "d"},
  "color": {"datum": "LA90,15min"}}},
{"data": {"name": "L"}, "mark": {"type": "line", "strokeWidth": 1.2},
 "encoding": {
  "x": {"field": "h", "type": "quantitative", "axis": null},
  "y": {"field": "p", "type": "quantitative", "axis": null},
  "detail": {"field": "d"},
  "color": {"datum": "LA10,15mins"}}},
{"data": {"name": "D"}, "mark": {"type": "rule", "strokeOpacity": 0},
 "encoding": {
  "x": {"field": "h", "type": "quantitative",
   "axis": {"orient": "bottom", "values": [39,63,87,111,135,159,183],
    "labelExpr": "(floor(datum.value / 24) + 7 < 10 ? '0' : '') + (floor(datum.value / 24) + 7) + '/02/2020'",
    "labelFontSize": 22, "labelFontWeight": "bold", "labelColor": "#262626", "labelPadding": 165, "labelBaseline": "middle",
    "ticks": false, "domain": false, "grid": false, "labelFlush": false, "labelOverlap": false, "labelBound": false,
    "title": "Time and Date", "titleFontSize": 20, "titleFontWeight": "bold", "titleLimit": 600,
    "titleX": 709, "titleY": 235, "titleBaseline": "middle", "titleAlign": "center"}}}}
]
}
